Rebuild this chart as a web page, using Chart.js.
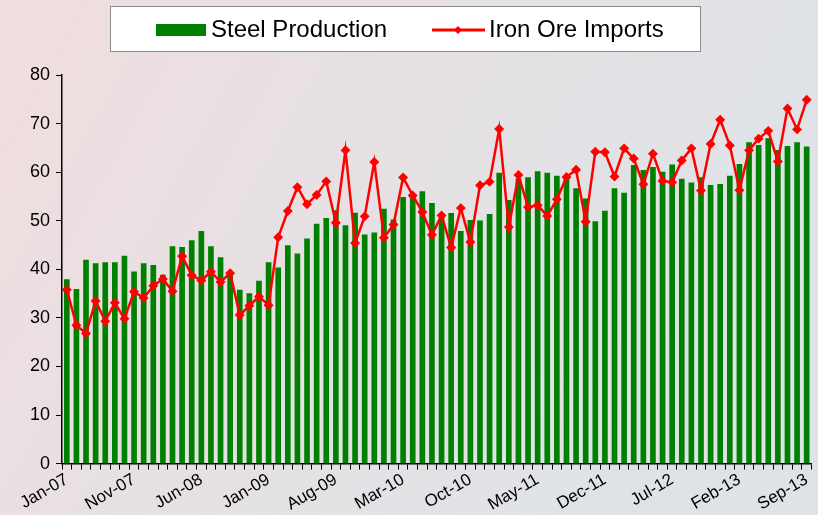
<!DOCTYPE html>
<html>
<head>
<meta charset="utf-8">
<script src="https://cdn.jsdelivr.net/npm/chart.js@4.4.0/dist/chart.umd.min.js"></script>
<style>
  html, body { margin: 0; padding: 0; background: #e2e2e4; }
  #wrap { width: 818px; height: 515px; }
</style>
</head>
<body>
<div id="wrap"><canvas id="chart" width="818" height="515"></canvas></div>
<script>

// months on the category axis (three months of 2007 are not in the source series)
const months = [
  'Jan-07', 'Feb-07', 'Mar-07', 'Apr-07', 'May-07', 'Jun-07', 'Jul-07', 'Nov-07', 'Dec-07',
  'Jan-08', 'Feb-08', 'Mar-08', 'Apr-08', 'May-08', 'Jun-08', 'Jul-08', 'Aug-08', 'Sep-08', 'Oct-08', 'Nov-08', 'Dec-08',
  'Jan-09', 'Feb-09', 'Mar-09', 'Apr-09', 'May-09', 'Jun-09', 'Jul-09', 'Aug-09', 'Sep-09', 'Oct-09', 'Nov-09', 'Dec-09',
  'Jan-10', 'Feb-10', 'Mar-10', 'Apr-10', 'May-10', 'Jun-10', 'Jul-10', 'Aug-10', 'Sep-10', 'Oct-10', 'Nov-10', 'Dec-10',
  'Jan-11', 'Feb-11', 'Mar-11', 'Apr-11', 'May-11', 'Jun-11', 'Jul-11', 'Aug-11', 'Sep-11', 'Oct-11', 'Nov-11', 'Dec-11',
  'Jan-12', 'Feb-12', 'Mar-12', 'Apr-12', 'May-12', 'Jun-12', 'Jul-12', 'Aug-12', 'Sep-12', 'Oct-12', 'Nov-12', 'Dec-12',
  'Jan-13', 'Feb-13', 'Mar-13', 'Apr-13', 'May-13', 'Jun-13', 'Jul-13', 'Aug-13', 'Sep-13'
];

const steelProduction = [
  37.9, 35.9, 41.9, 41.2, 41.4, 41.4, 42.7, 39.5, 41.2, 40.8,
  38.8, 44.7, 44.5, 45.9, 47.8, 44.7, 42.4, 39.0, 35.7, 35.0,
  37.6, 41.4, 40.3, 44.9, 43.2, 46.3, 49.3, 50.5, 52.1, 49.0,
  51.6, 47.1, 47.5, 52.4, 50.2, 54.8, 54.8, 56.0, 53.6, 51.3,
  51.5, 47.8, 50.1, 50.0, 51.3, 59.8, 54.2, 58.6, 58.9, 60.1,
  59.8, 59.2, 58.7, 56.6, 54.5, 49.8, 52.0, 56.6, 55.7, 61.4,
  60.4, 61.0, 60.0, 61.5, 58.6, 57.8, 58.9, 57.3, 57.5, 59.2,
  61.6, 66.1, 65.5, 66.9, 64.5, 65.3, 66.1, 65.2
];

const ironOreImports = [
  35.8, 28.5, 26.8, 33.5, 29.3, 33.1, 29.8, 35.4, 34.1, 36.6,
  38.0, 35.5, 42.7, 38.8, 37.7, 39.5, 37.4, 39.2, 30.6, 32.5,
  34.4, 32.6, 46.6, 52.0, 56.9, 53.4, 55.3, 58.1, 49.6, 64.5,
  45.4, 50.9, 62.1, 46.5, 49.2, 58.9, 55.2, 51.8, 47.1, 51.1,
  44.5, 52.6, 45.6, 57.3, 58.0, 68.9, 48.7, 59.4, 52.8, 53.2,
  51.0, 54.4, 59.0, 60.5, 49.8, 64.2, 64.1, 59.1, 64.9, 62.8,
  57.5, 63.8, 58.2, 57.9, 62.4, 64.9, 56.2, 65.8, 70.8, 65.5,
  56.3, 64.5, 66.9, 68.5, 62.2, 73.1, 68.8, 74.9
];

const labelEvery = 7;

const steelColor = '#008000';
const ironColor = '#ff0000';

Chart.defaults.font.family = '"Liberation Sans", Arial, sans-serif';
Chart.defaults.color = '#000';

// soft pink / grey backdrop like the slide
const backdrop = {
  id: 'backdrop',
  beforeDraw(chart) {
    const ctx = chart.ctx;
    const w = chart.width, h = chart.height;
    ctx.save();
    let g = ctx.createLinearGradient(0, 0, w * 0.8, h * 0.7);
    g.addColorStop(0, 'rgb(241,221,223)');
    g.addColorStop(0.4, 'rgb(232,224,226)');
    g.addColorStop(1, 'rgb(223,227,231)');
    ctx.fillStyle = g;
    ctx.fillRect(0, 0, w, h);
    ctx.restore();
  }
};

// legend in a white framed box
const boxLegend = {
  id: 'boxLegend',
  afterDraw(chart) {
    const ctx = chart.ctx;
    const sets = chart.data.datasets;
    ctx.save();
    ctx.fillStyle = '#fff';
    ctx.fillRect(110.5, 6.5, 590, 45);
    ctx.strokeStyle = '#8a8a8a';
    ctx.lineWidth = 1;
    ctx.strokeRect(110.5, 6.5, 590, 45);

    ctx.fillStyle = steelColor;
    ctx.fillRect(156, 24, 50, 12);

    ctx.strokeStyle = ironColor;
    ctx.lineWidth = 3;
    ctx.beginPath();
    ctx.moveTo(432, 30);
    ctx.lineTo(485, 30);
    ctx.stroke();
    ctx.fillStyle = ironColor;
    ctx.beginPath();
    ctx.moveTo(458, 26);
    ctx.lineTo(462, 30);
    ctx.lineTo(458, 34);
    ctx.lineTo(454, 30);
    ctx.closePath();
    ctx.fill();

    ctx.fillStyle = '#000';
    ctx.font = '24px "Liberation Sans", Arial, sans-serif';
    ctx.textBaseline = 'middle';
    ctx.fillText(sets[0].label, 211, 30);
    ctx.fillText(sets[1].label, 489, 30);
    ctx.restore();
  }
};

const data = {
  labels: months,
  datasets: [
    {
      type: 'bar',
      label: 'Steel Production',
      data: steelProduction,
      backgroundColor: steelColor,
      barThickness: 5,
      order: 1
    },
    {
      type: 'line',
      label: 'Iron Ore Imports',
      data: ironOreImports,
      borderColor: ironColor,
      backgroundColor: ironColor,
      borderWidth: 2.5,
      pointStyle: 'rectRot',
      pointRadius: 3.2,
      pointBackgroundColor: ironColor,
      pointBorderColor: ironColor,
      tension: 0,
      order: 0
    }
  ]
};

const config = {
  type: 'bar',
  data: data,
  options: {
    responsive: false,
    animation: false,
    devicePixelRatio: 1,
    layout: {
      padding: { top: 75, right: 3, left: 0, bottom: 0 }
    },
    plugins: {
      legend: { display: false },
      tooltip: { enabled: false }
    },
    scales: {
      x: {
        offset: true,
        grid: {
          drawOnChartArea: false,
          drawTicks: true,
          tickLength: 6,
          color: '#000',
          offset: true
        },
        border: { display: true, color: '#000', width: 1.5 },
        ticks: {
          autoSkip: false,
          minRotation: 30,
          maxRotation: 30,
          padding: 0,
          font: { size: 17 },
          color: '#000',
          callback: function(val, i) {
            return i % labelEvery === 0 ? this.getLabelForValue(val) : '';
          }
        }
      },
      y: {
        min: 0,
        max: 80,
        grid: {
          drawOnChartArea: false,
          tickLength: 6,
          color: '#000'
        },
        border: { display: true, color: '#000', width: 1.5 },
        ticks: {
          stepSize: 10,
          padding: 6,
          font: { size: 18 },
          color: '#000'
        },
        afterFit(scale) {
          scale.width = 62;
        }
      }
    }
  },
  plugins: [backdrop, boxLegend]
};

var chart = new Chart(document.getElementById('chart'), config);

</script>
</body>
</html>
